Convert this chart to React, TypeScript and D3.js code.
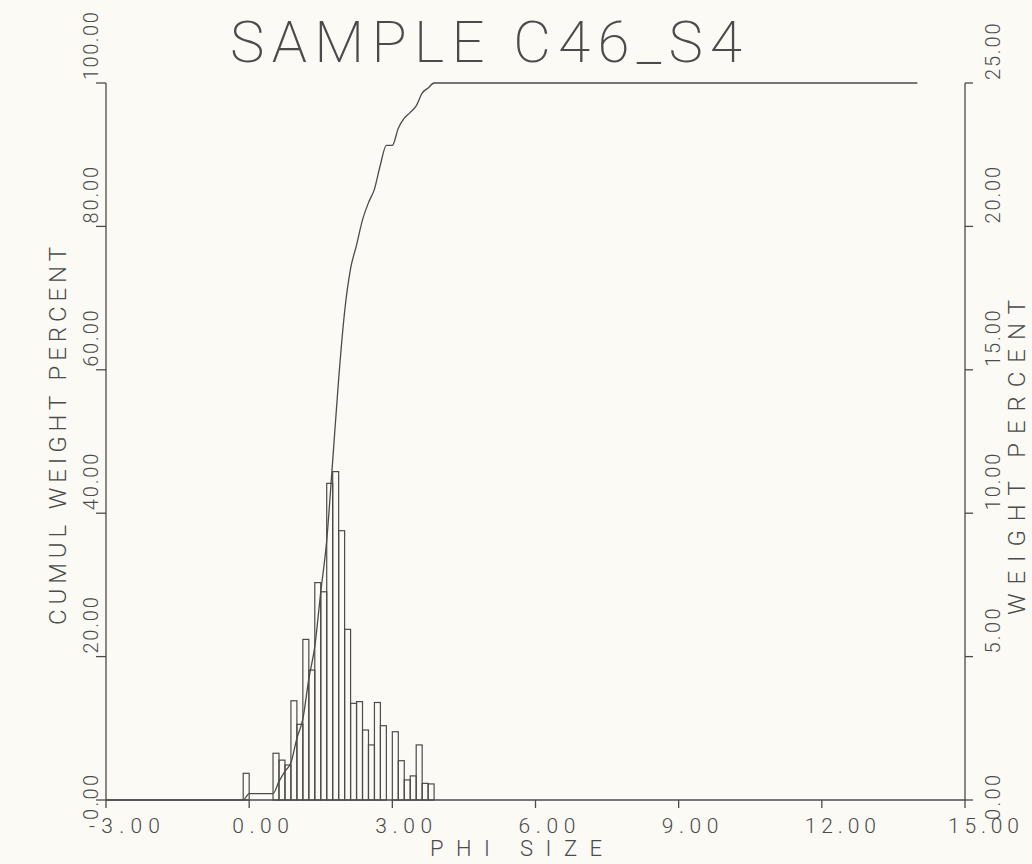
import React from "react";
import * as d3 from "d3";

const TITLE = "SAMPLE C46_S4";
const X_LABEL = "PHI SIZE";
const Y_LEFT_LABEL = "CUMUL WEIGHT PERCENT";
const Y_RIGHT_LABEL = "WEIGHT PERCENT";

const X_TICKS = [-3, 0, 3, 6, 9, 12, 15];
const X_TICK_LABELS = ["-3.00", "0.00", "3.00", "6.00", "9.00", "12.00", "15.00"];
const LEFT_TICKS = [0, 20, 40, 60, 80, 100];
const LEFT_TICK_LABELS = ["0.00", "20.00", "40.00", "60.00", "80.00", "100.00"];
const RIGHT_TICKS = [0, 5, 10, 15, 20, 25];
const RIGHT_TICK_LABELS = ["0.00", "5.00", "10.00", "15.00", "20.00", "25.00"];

// histogram: lower edge of each 1/8-phi class and weight percent
const BIN_WIDTH = 0.125;
const BIN_START = [
  -0.125, 0.5, 0.625, 0.75, 0.875, 1.0, 1.125, 1.25, 1.375, 1.5, 1.625, 1.75, 1.875, 2.0,
  2.125, 2.25, 2.375, 2.5, 2.625, 2.75, 2.875, 3.0, 3.125, 3.25, 3.375, 3.5, 3.625, 3.75,
];
const WEIGHT_PCT = [
  0.93, 1.63, 1.39, 1.22, 3.46, 2.64, 5.6, 4.53, 7.58, 7.26, 11.04, 11.45, 9.39, 5.95,
  3.37, 3.43, 2.44, 1.92, 3.4, 2.59, 0, 2.38, 1.37, 0.7, 0.84, 1.92, 0.58, 0.56,
];

// cumulative curve (phi, cumulative weight percent)
const CUM_PHI = [
  -3, -0.125, 0, 0.5, 0.625, 0.75, 0.875, 1.0, 1.125, 1.25, 1.375, 1.5, 1.625, 1.75, 1.875,
  2.0, 2.125, 2.25, 2.375, 2.5, 2.625, 2.75, 2.875, 3.0, 3.125, 3.25, 3.375, 3.5, 3.625,
  3.75, 3.875, 14.0,
];
const CUM_PCT = [
  0, 0, 0.9, 0.9, 2.6, 4.0, 5.2, 8.6, 11.3, 16.9, 21.4, 29.0, 36.2, 47.3, 58.7, 68.1, 74.1,
  77.4, 80.9, 83.3, 85.2, 88.6, 91.3, 91.3, 93.7, 95.1, 95.9, 96.8, 98.6, 99.3, 100, 100,
];

const INK = "#4b4b4b";
const FONT = "Roboto, 'DejaVu Sans', sans-serif";

export default function App() {
  const W = 1032;
  const H = 864;
  const x = d3.scaleLinear().domain([-3, 15]).range([106, 965]);
  const yL = d3.scaleLinear().domain([0, 100]).range([800, 83]);
  const yR = d3.scaleLinear().domain([0, 25]).range([800, 83]);

  const cumData = CUM_PHI.map((p, i) => [p, CUM_PCT[i]] as [number, number]);
  const line = d3
    .line<[number, number]>()
    .x((d) => x(d[0]))
    .y((d) => yL(d[1]))
    .curve(d3.curveMonotoneX);

  const x0 = x(-3);
  const x1 = x(15);
  const yb = yL(0);

  const rotText = (
    key: string,
    tx: number,
    ty: number,
    s: string,
    size: number,
    len: number
  ) => (
    <text
      key={key}
      transform={`translate(${tx},${ty}) rotate(-90)`}
      textAnchor="start"
      fontSize={size}
      textLength={len}
      lengthAdjust="spacing"
      fill={INK}
      fontFamily={FONT}
      fontWeight={300}
    >
      {s}
    </text>
  );

  return (
    <svg
      width={W}
      height={H}
      style={{ position: "absolute", left: 0, top: 0, display: "block" }}
    >
      <rect x={0} y={0} width={W} height={H} fill="#fbfaf5" />

      {/* title */}
      <text
        x={230}
        y={62}
        fontSize={58}
        textLength={512}
        lengthAdjust="spacing"
        fill={INK}
        fontFamily={FONT}
        fontWeight={200}
      >
        {TITLE}
      </text>

      {/* histogram bars */}
      <g fill="none" stroke={INK} strokeWidth={1.2}>
        {BIN_START.map((b, i) => (
          <rect
            key={i}
            x={x(b)}
            y={yR(WEIGHT_PCT[i])}
            width={x(b + BIN_WIDTH) - x(b)}
            height={yR(0) - yR(WEIGHT_PCT[i])}
          />
        ))}
      </g>

      {/* cumulative curve */}
      <path d={line(cumData) || ""} fill="none" stroke={INK} strokeWidth={1.3} />

      {/* axes */}
      <g stroke={INK} strokeWidth={1.3} fill="none">
        <line x1={x0} y1={yb} x2={x1} y2={yb} />
        <line x1={x0} y1={yL(0)} x2={x0} y2={yL(100)} />
        <line x1={x1} y1={yR(0)} x2={x1} y2={yR(25)} />
        {X_TICKS.map((t) => (
          <line key={"xt" + t} x1={x(t)} y1={yb} x2={x(t)} y2={yb + 8} />
        ))}
        {LEFT_TICKS.map((t) => (
          <line key={"lt" + t} x1={x0 - 10} y1={yL(t)} x2={x0} y2={yL(t)} />
        ))}
        {RIGHT_TICKS.map((t) => (
          <line key={"rt" + t} x1={x1} y1={yR(t)} x2={x1 + 8} y2={yR(t)} />
        ))}
      </g>

      {/* x tick labels */}
      {X_TICKS.map((t, i) => (
        <text
          key={"xl" + t}
          x={x(t) - 17}
          y={833}
          fontSize={21}
          textLength={X_TICK_LABELS[i].length * 14.2}
          lengthAdjust="spacing"
          fill={INK}
          fontFamily={FONT}
          fontWeight={300}
        >
          {X_TICK_LABELS[i]}
        </text>
      ))}

      {/* left tick labels */}
      {LEFT_TICKS.map((t, i) =>
        rotText(
          "ll" + t,
          98,
          t === 0 ? 820 : yL(t) - 3,
          LEFT_TICK_LABELS[i],
          20,
          LEFT_TICK_LABELS[i].length * 11.3
        )
      )}

      {/* right tick labels */}
      {RIGHT_TICKS.map((t, i) =>
        rotText(
          "rl" + t,
          1000,
          t === 0 ? 820 : yR(t) - 3,
          RIGHT_TICK_LABELS[i],
          20,
          RIGHT_TICK_LABELS[i].length * 11.3
        )
      )}

      {/* axis titles */}
      <text
        x={430}
        y={856}
        fontSize={22}
        textLength={172}
        lengthAdjust="spacing"
        fill={INK}
        fontFamily={FONT}
        fontWeight={300}
      >
        {X_LABEL}
      </text>
      {rotText("yl", 66, 625, Y_LEFT_LABEL, 24, 378)}
      {rotText("yr", 1025, 615, Y_RIGHT_LABEL, 24, 315)}
    </svg>
  );
}
